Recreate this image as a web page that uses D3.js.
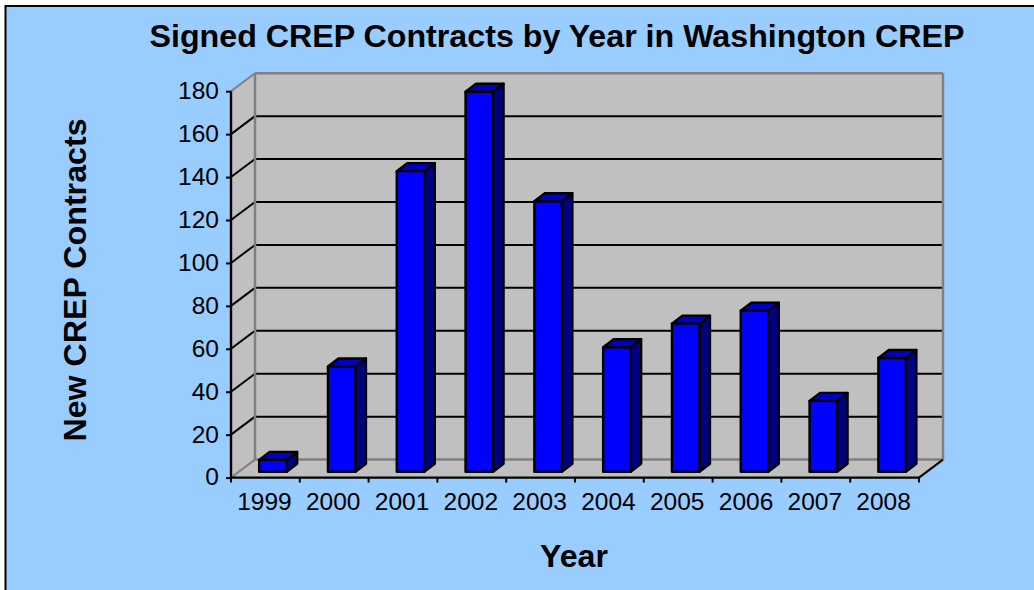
<!DOCTYPE html>
<html><head><meta charset="utf-8">
<script src="https://cdnjs.cloudflare.com/ajax/libs/d3/7.8.5/d3.min.js"></script>
<style>html,body{margin:0;padding:0;background:#fff;overflow:hidden}svg{display:block}text{font-family:"Liberation Sans",Arial,sans-serif;fill:#000}</style>
</head><body><svg id="c" width="1034" height="590"></svg>
<script>
const years = ["1999","2000","2001","2002","2003","2004","2005","2006","2007","2008"];
const contracts = [5.5,49,140,177,126,58,69,75,33,53];
const yTicks = [0,20,40,60,80,100,120,140,160,180];
const titleText = "Signed CREP Contracts by Year in Washington CREP";
const xTitle = "Year";
const yTitle = "New CREP Contracts";

const svg = d3.select("#c");
const L=231,R=919,B=477.6,T=91.2,DX=24,DY=18;
const x=d3.scaleBand().domain(years).range([L,R]);
const y=d3.scaleLinear().domain([0,180]).range([B,T]);
const poly=(g,pts,fill)=>g.append("polygon").attr("points",pts.map(p=>p.join(",")).join(" ")).attr("fill",fill);
const line=(g,a,b,c,w)=>g.append("line").attr("x1",a[0]).attr("y1",a[1]).attr("x2",b[0]).attr("y2",b[1]).attr("stroke",c).attr("stroke-width",w);

svg.append("rect").attr("x",5.5).attr("y",6).attr("width",1040).attr("height",600).attr("fill","#99ccff").attr("stroke","#000").attr("stroke-width",2);

const wall=svg.append("g");
poly(wall,[[L,y(180)],[L+DX,y(180)-DY],[R+DX,y(180)-DY],[R+DX,B-DY],[R,B],[L,B]],"#c0c0c0");
yTicks.filter(v=>v>0&&v<180).forEach(v=>{
  line(wall,[L,y(v)],[L+DX,y(v)-DY],"#000",2);
  line(wall,[L+DX,y(v)-DY],[R+DX,y(v)-DY],"#000",2);
});
line(wall,[L,y(180)],[L+DX,y(180)-DY],"#808080",2);
line(wall,[L+DX,y(180)-DY],[R+DX,y(180)-DY],"#808080",2.5);
line(wall,[L+DX,y(180)-DY],[L+DX,B-DY],"#808080",2.5);
line(wall,[R+DX,y(180)-DY],[R+DX,B-DY],"#808080",2.5);
line(wall,[L+DX,B-DY],[R+DX,B-DY],"#808080",2.5);
line(wall,[L,B],[L+DX,B-DY],"#808080",2);
line(wall,[R,B],[R+DX,B-DY],"#000",2);

const barW=27.5,bx=10.5,by=8,baseUp=5.9,barShift=7.5;
const bars=svg.append("g").selectAll("g").data(years.map((d,i)=>({d,v:contracts[i]}))).join("g")
  .attr("stroke","#000").attr("stroke-width",2.4).attr("stroke-linejoin","round");
bars.each(function(o){
  const g=d3.select(this);
  const x0=x(o.d)+x.bandwidth()/2-barW/2+barShift, x1=x0+barW;
  const yb=y(0)-baseUp, yt=y(o.v)-baseUp;
  poly(g,[[x1,yb],[x1+bx,yb-by],[x1+bx,yt-by],[x1,yt]],"#000080");
  poly(g,[[x0,yt],[x0+bx,yt-by],[x1+bx,yt-by],[x1,yt]],"#0000c0");
  g.append("rect").attr("x",x0).attr("y",yt).attr("width",barW).attr("height",yb-yt).attr("fill","#0000ff");
});

const ya=svg.append("g").attr("transform",`translate(${L},0)`)
  .call(d3.axisLeft(y).tickValues(yTicks).tickSize(5).tickPadding(7));
const xa=svg.append("g").attr("transform",`translate(0,${B})`)
  .call(d3.axisBottom(x).tickSize(0).tickPadding(15));
[ya,xa].forEach(a=>{a.selectAll("path.domain").attr("stroke","#000").attr("stroke-width",2.4);a.selectAll("line").attr("stroke","#000").attr("stroke-width",2);
  a.selectAll("text").attr("font-size",24.5).attr("font-family",'"Liberation Sans",Arial,sans-serif').attr("fill","#000");});
ya.select("path.domain").attr("d",`M0,${y(180)}V${y(0)}`);
ya.selectAll("text").attr("dy","0.3em");
xa.select("path.domain").attr("d",`M${L},0H${R}`);
xa.selectAll("text").attr("dx",-1);
xa.selectAll("line.b").data(d3.range(years.length+1)).join("line").attr("class","b")
  .attr("x1",i=>L+i*x.step()).attr("x2",i=>L+i*x.step()).attr("y1",0).attr("y2",5).attr("stroke","#000").attr("stroke-width",2);

svg.append("text").attr("x",557).attr("y",47).attr("text-anchor","middle").attr("font-size",32.2).attr("font-weight","bold").text(titleText);
svg.append("text").attr("x",574).attr("y",567).attr("text-anchor","middle").attr("font-size",32.2).attr("font-weight","bold").text(xTitle);
svg.append("text").attr("transform","translate(86,280) rotate(-90)").attr("text-anchor","middle").attr("font-size",32.2).attr("font-weight","bold").text(yTitle);
</script></body></html>
